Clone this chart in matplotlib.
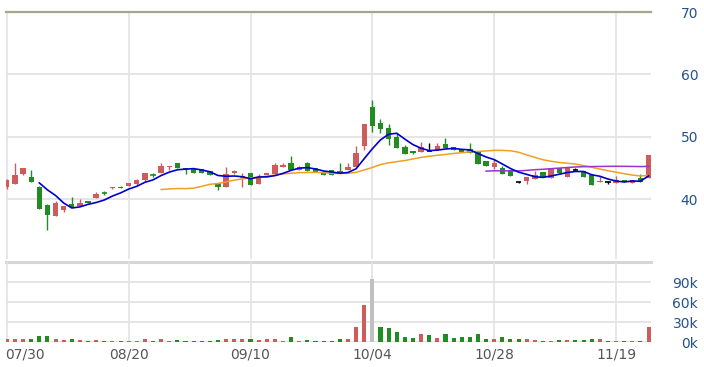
import matplotlib
matplotlib.use("Agg")
import matplotlib.pyplot as plt
import numpy as np
import pandas as pd

# ---------------- data ----------------
opens = [42.0, 42.5, 44.1, 43.6, 42.0, 39.1, 37.4, 38.3, 39.3, 38.9,
         39.7, 40.2, 41.1, 41.8, 42.05, 42.2, 42.4, 43.1, 44.0, 44.2,
         45.15, 45.8, 45.0, 44.9, 44.9, 44.6, 42.6, 42.0, 44.3, 43.4,
         44.2, 42.5, 43.9, 44.1, 45.2, 45.8, 44.7, 45.8, 45.0, 44.4,
         44.7, 44.5, 44.7, 45.2, 48.6, 54.8, 52.2, 51.4, 50.0, 48.4,
         47.8, 47.6, 47.8, 47.9, 48.9, 48.4, 48.1, 48.1, 47.6, 46.2,
         45.2, 45.0, 44.7, 42.8, 42.9, 43.3, 44.4, 43.4, 45.0, 43.6,
         44.7, 44.6, 43.9, 42.8, 42.8, 42.6, 43.1, 42.6, 43.4, 43.4]
closes = [43.1, 43.9, 45.0, 42.8, 38.5, 37.5, 39.4, 39.0, 38.8, 39.4,
          39.5, 40.9, 41.0, 41.95, 41.9, 42.6, 43.1, 44.2, 43.9, 45.4,
          45.3, 45.0, 44.7, 44.3, 44.3, 43.9, 42.0, 44.1, 44.5, 43.7,
          42.3, 43.4, 44.2, 45.5, 45.5, 44.7, 45.2, 44.6, 44.4, 43.9,
          43.9, 44.2, 45.2, 47.4, 52.0, 51.8, 51.3, 49.7, 48.2, 47.3,
          47.4, 48.4, 47.8, 48.6, 48.2, 47.9, 47.6, 47.4, 45.7, 45.4,
          45.8, 44.1, 43.8, 42.8, 43.6, 43.9, 43.6, 44.9, 44.2, 45.0,
          44.7, 43.6, 42.3, 43.0, 42.8, 43.1, 42.8, 43.1, 42.8, 47.1]
highs = [43.3, 45.8, 45.1, 44.7, 42.2, 39.3, 39.7, 39.0, 40.4, 40.1,
         39.8, 41.2, 41.4, 42.0, 42.1, 42.7, 43.2, 44.3, 44.3, 45.8,
         45.4, 45.8, 45.0, 44.9, 44.9, 44.6, 42.6, 45.2, 44.7, 44.3,
         44.2, 44.1, 44.3, 45.8, 45.8, 47.0, 45.3, 46.0, 45.1, 44.5,
         44.7, 45.8, 45.8, 48.6, 52.0, 55.9, 52.9, 52.0, 50.6, 48.7,
         47.8, 49.2, 49.0, 49.0, 49.8, 48.4, 48.1, 49.0, 47.6, 46.2,
         46.4, 45.3, 44.7, 42.9, 43.6, 44.6, 44.4, 44.9, 45.0, 45.0,
         45.1, 44.6, 43.9, 43.8, 43.0, 43.8, 43.1, 43.1, 44.0, 47.1]
lows = [41.7, 42.5, 43.9, 42.8, 38.5, 35.1, 37.4, 38.0, 38.8, 38.9,
        39.4, 40.2, 40.7, 41.7, 41.8, 42.2, 42.3, 43.0, 43.6, 44.2,
        44.7, 45.0, 44.1, 44.3, 44.3, 43.9, 41.5, 42.0, 44.0, 42.0,
        42.3, 42.5, 43.9, 44.1, 45.2, 44.7, 44.7, 44.6, 44.4, 43.9,
        43.9, 44.2, 44.7, 45.2, 47.9, 50.8, 50.6, 48.7, 48.2, 47.3,
        47.3, 47.6, 47.8, 47.9, 48.2, 47.9, 47.6, 47.4, 45.7, 45.4,
        44.9, 44.1, 43.8, 42.7, 42.5, 43.3, 43.6, 43.4, 44.2, 43.6,
        44.7, 43.6, 42.3, 42.8, 42.5, 42.6, 42.8, 42.6, 42.8, 43.4]
volumes_k = [4, 5, 5, 5, 9, 9, 5, 3, 5, 3,
             1.5, 3, 1, 1, 1, 1, 1.5, 5, 1, 5,
             1, 3, 1, 1, 1, 1, 3, 5, 4, 5,
             4, 3, 4, 5, 1, 7, 1, 3, 1, 1,
             1, 5, 4, 23, 55, 95, 22.5, 20.5, 15, 7,
             6, 11.5, 10, 6, 11.5, 6, 7, 7.5, 11.5, 4,
             4, 7.5, 5, 5, 4, 3, 1, 1, 3, 3,
             3, 3, 5, 4, 1, 1, 1, 1, 1, 22.5]
highlight_index = 45
tick_positions = [0, 15, 30, 45, 60, 75]
tick_labels = ["07/30", "08/20", "09/10", "10/04", "10/28", "11/19"]
price_ticks = [40, 50, 60, 70]
volume_ticks_k = [0, 30, 60, 90]

# ---------------- styling ----------------
RED = "#cd5c5c"
GREEN = "#228b22"
GRID = "#e3e3e3"
LABEL_BLUE = "#24528c"
LABEL_GRAY = "#555555"
plt.rcParams['font.family'] = ['DejaVu Sans']

W, H = 704, 367
fig = plt.figure(figsize=(W / 100, H / 100), dpi=100)

def ax_rect(x0, y0, x1, y1):
    return [x0 / W, 1 - y1 / H, (x1 - x0) / W, (y1 - y0) / H]

ax = fig.add_axes(ax_rect(6, 12, 651, 259))
axv = fig.add_axes(ax_rect(6, 262, 651, 342))

n = len(closes)
x = np.arange(n)
xlim = (-0.1, 79.3)

o = np.array(opens); c = np.array(closes); h = np.array(highs); l = np.array(lows)

# ---- price panel ----
ax.set_xlim(*xlim)
ax.set_ylim(30.48, 70)
for t in price_ticks[:-1]:
    ax.axhline(t, color=GRID, lw=1.3, zorder=0)
ax.axhline(70, color="#a8a68a", lw=1.6, zorder=1, clip_on=False)
for tp in tick_positions:
    ax.axvline(tp, color=GRID, lw=1.2, zorder=0)

for i in range(n):
    if c[i] > o[i]:
        col = RED
    elif c[i] < o[i]:
        col = GREEN
    else:
        col = "black"
    ax.vlines(x[i], l[i], h[i], color=col, lw=1.0, zorder=3)
    bottom = min(o[i], c[i])
    height = abs(c[i] - o[i])
    if height < 0.12:
        ax.hlines((o[i] + c[i]) / 2, x[i] - 0.33, x[i] + 0.33, color=col, lw=1.2, zorder=3)
    else:
        ax.bar(x[i], height, bottom=bottom, width=0.66, color=col, lw=0, zorder=3)

s = pd.Series(c)
ma5 = s.rolling(5).mean()
ma20 = s.rolling(20).mean()
ma60 = s.rolling(60).mean()
ax.plot(x, ma20, color="#f0a020", lw=1.1, zorder=4)
ax.plot(x, ma60, color="#9933cc", lw=1.1, zorder=4)
ax.plot(x, ma5, color="#0000cc", lw=1.2, zorder=5)

ax.yaxis.tick_right()
ax.set_yticks(price_ticks)
ax.set_yticklabels([str(t) for t in price_ticks], ha="right", color=LABEL_BLUE, fontsize=10)
ax.tick_params(axis="y", length=0, pad=34)
ax.set_xticks([])
for sp in ax.spines.values():
    sp.set_visible(False)

# ---- volume panel ----
vol = np.array(volumes_k) * 1000
axv.set_xlim(*xlim)
axv.set_ylim(0, 120000)
for t in volume_ticks_k:
    axv.axhline(t * 1000, color=GRID, lw=1.3, zorder=0)
axv.axhline(120000, color="#d6d6d6", lw=2.2, zorder=0, clip_on=False)
for tp in tick_positions:
    axv.axvline(tp, color=GRID, lw=1.2, zorder=0, ymin=-0.03)
vcols = []
for i in range(n):
    if i == highlight_index:
        vcols.append("#c0c0c0")
    elif c[i] > o[i]:
        vcols.append(RED)
    else:
        vcols.append(GREEN)
axv.bar(x, vol, width=0.5, color=vcols, lw=0, zorder=3)

axv.yaxis.tick_right()
axv.set_yticks([t * 1000 for t in volume_ticks_k])
axv.set_yticklabels([f"{t}k" for t in volume_ticks_k], ha="right", color=LABEL_BLUE, fontsize=10)
axv.tick_params(axis="y", length=0, pad=34)
axv.set_xticks(tick_positions)
axv.set_xticklabels(tick_labels, color=LABEL_GRAY, fontsize=10)
axv.tick_params(axis="x", length=0, pad=4)
axv.get_xticklabels()[0].set_ha("left")
from matplotlib.transforms import ScaledTranslation
axv.get_xticklabels()[0].set_transform(axv.get_xticklabels()[0].get_transform()
                                       + ScaledTranslation(-2 / 100, 0, fig.dpi_scale_trans))
for sp in axv.spines.values():
    sp.set_visible(False)

fig.savefig("out.png", dpi=100, facecolor="white")
